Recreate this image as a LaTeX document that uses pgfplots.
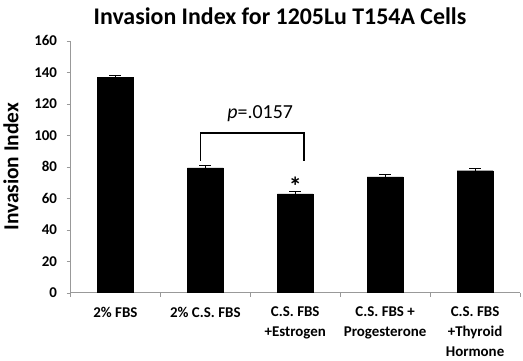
\documentclass[border=0pt]{standalone}
\usepackage{pgfplots}
\pgfplotsset{compat=1.18}
\usepackage{fontspec}
\setmainfont{Carlito}
\begin{document}
\begin{tikzpicture}
\pgfplotstableread{
x y err
0 137.0 1.2
1 79.4 1.5
2 62.8 1.3
3 73.6 1.3
4 77.5 1.2
}\datatable
\begin{axis}[
  scale only axis,
  width=450bp, height=252bp,
  xmin=-0.5, xmax=4.5,
  ymin=0, ymax=160,
  ytick={0,20,...,160},
  axis lines*=left,
  axis line style={draw=gray!80},
  tick style={draw=gray!80},
  tick align=outside,
  major tick length=4bp,
  minor tick length=4bp,
  xtick={0,1,2,3,4},
  x tick style={draw=none},
  minor xtick={-0.5,0.5,1.5,2.5,3.5,4.5},
  minor x tick style={draw=gray!80},
  xticklabels={2\% FBS,2\% C.S. FBS,C.S. FBS\\+Estrogen,C.S. FBS +\\Progesterone,C.S. FBS\\+Thyroid\\Hormone},
  xticklabel style={font=\bfseries\fontsize{15}{20}\selectfont, align=center, yshift=-7bp},
  yticklabel style={font=\bfseries\fontsize{15}{16}\selectfont, xshift=-6bp},
  /pgf/number format/assume math mode=true,
  ylabel={Invasion Index},
  ylabel style={font=\bfseries\fontsize{21.5}{24}\selectfont, yshift=9bp},
  clip=false,
]
\addplot[ybar, bar width=36bp, fill=black, draw=black,
  error bars/.cd, y dir=plus, y explicit,
  error bar style={line width=0.8pt, black},
  error mark options={rotate=90, mark size=6bp, line width=0.8pt}]
  table[x=x, y=y, y error=err] {\datatable};
\addplot[black, line width=1.6pt] coordinates {(0.944,84) (0.944,101.6) (2.1,101.6) (2.1,84)};
\node[font=\fontsize{20}{22}\selectfont] at (axis cs:1.61,114) {\textit{p}=.0157};
\node[font=\bfseries\fontsize{26}{28}\selectfont, anchor=center] at (axis cs:2,67.5) {\raisebox{-0.22em}{*}};
\coordinate (O) at (rel axis cs:0,0);
\node[font=\bfseries\fontsize{24}{28}\selectfont] at (axis cs:1.83,175.5) {Invasion Index for 1205Lu T154A Cells};
\end{axis}
\path (O) ++(-70bp,-64bp) rectangle ++(523bp,357bp);
\end{tikzpicture}
\end{document}
